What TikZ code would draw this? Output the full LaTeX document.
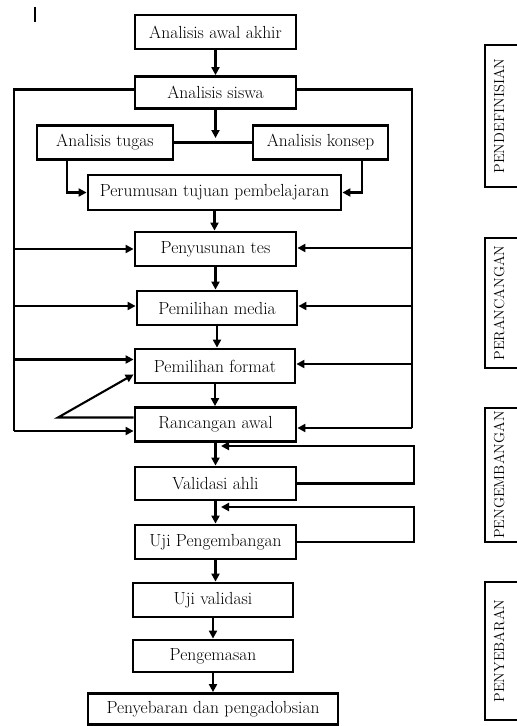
\documentclass[tikz,border=0pt]{standalone}
\usepackage{tikz}
\usetikzlibrary{arrows.meta, calc}

\begin{document}
\begin{tikzpicture}[x=1pt, y=-1pt,
    kotak/.style={draw, line width=2.8pt, minimum width=161pt, minimum height=34pt, inner sep=0pt, font=\fontsize{17.5}{20}\selectfont},
    garis/.style={line width=2.1pt},
    panah/.style={garis, -{Triangle[length=8pt, width=8pt]}},
    fase/.style={draw, line width=2.4pt},
    teksfase/.style={rotate=90, inner sep=0pt, font=\fontsize{14.5}{16}\selectfont}]
    \useasboundingbox (0,0) rectangle (517,726);
    \clip (0,0) rectangle (517,726);

    % Tanda kursor
    \draw[line width=1.2pt] (35,7) -- (35,22);

    % Kotak-kotak utama
    \node[kotak] (awal) at (215.5,32) {Analisis awal akhir};
    \node[kotak, minimum height=32pt] (siswa) at (215.5,92.5) {Analisis siswa};
    \node[kotak, minimum width=136pt] (tugas) at (105,142.5) {Analisis tugas};
    \node[kotak, minimum width=135pt] (konsep) at (320.5,142.5) {Analisis konsep};
    \node[kotak, minimum width=253pt, minimum height=35pt] (tujuan) at (214.5,192.5) {Perumusan tujuan pembelajaran};
    \node[kotak] (tes) at (215.5,249) {Penyusunan tes};
    \node[kotak, minimum width=160pt] (media) at (217,308) {Pemilihan media};
    \node[kotak, minimum width=160pt] (format) at (215,366) {Pemilihan format};
    \node[kotak] (rancangan) at (215.5,424.5) {Rancangan awal};
    \node[kotak, minimum height=33pt] (validasi) at (215.5,483.5) {Validasi ahli};
    \node[kotak] (ujipeng) at (215.5,542) {Uji Pengembangan};
    \node[kotak, minimum width=160pt] (ujival) at (213,600) {Uji validasi};
    \node[kotak, minimum width=160pt, minimum height=32pt] (kemas) at (213,656) {Pengemasan};
    \node[kotak, minimum width=250pt, minimum height=31pt] (sebar) at (213,709) {Penyebaran dan pengadobsian};

    % Alur ke bawah
    \foreach \a/\b in {awal/siswa, tujuan/tes, tes/media, media/format, format/rancangan,
                       rancangan/validasi, validasi/ujipeng, ujipeng/ujival, ujival/kemas, kemas/sebar}
        \draw[panah] (\a.south) -- (\a.south |- \b.north);

    % Analisis tugas dan konsep
    \coordinate (simpul) at (215.5,138);
    \draw[panah] (siswa.south) -- (simpul);
    \draw[garis] (tugas.east) -- (konsep.west);
    \draw[panah] ([xshift=-38pt]tugas.south) |- (tujuan.west);
    \draw[panah] ([xshift=41.5pt]konsep.south) |- (tujuan.east);

    % Jalur kiri
    \coordinate (kiri) at (14,0);
    \coordinate (kiribawah) at (14,431);
    \draw[garis] ([yshift=3pt]siswa.west) -| (kiribawah);
    \draw[panah] (kiribawah) -- (kiribawah -| rancangan.west);
    \foreach \n/\d in {tes/0, media/2, format/6.5} {
        \path ([yshift=\d pt]\n.west) coordinate (t);
        \draw[panah] (t -| kiri) -- (t);
    }
    \path ([yshift=7pt]rancangan.west) coordinate (v0);
    \coordinate (vujung) at (58,417.5);
    \draw[panah] (v0) -- (vujung) -- ([yshift=10pt]format.south west);

    % Jalur kanan
    \coordinate (kanan) at (412,0);
    \path ([yshift=-3.5pt]rancangan.east) coordinate (r0);
    \draw[garis] ([yshift=3pt]siswa.east) -| (r0 -| kanan);
    \draw[panah] (r0 -| kanan) -- (r0);
    \foreach \n/\d in {tes/1, media/2, format/2} {
        \path ([yshift=\d pt]\n.east) coordinate (t);
        \draw[panah] (t -| kanan) -- (t);
    }

    % Umpan balik
    \coordinate (kanan2) at (414,0);
    \coordinate (balik1) at (221,446);
    \coordinate (balik2) at (221,507);
    \draw[panah] (validasi.east) -- (validasi.east -| kanan2) |- (balik1);
    \draw[panah] (ujipeng.east) -- (ujipeng.east -| kanan2) |- (balik2);

    % Tahap
    \draw[fase] (485,45) rectangle (540,187);
    \node[teksfase] (definisi) at (499,116) {PENDEFINISIAN};
    \draw[fase] (485,238) rectangle (540,368);
    \node[teksfase] (rancang) at (499,303) {PERANCANGAN};
    \draw[fase] (485,408) rectangle (540,542);
    \node[teksfase] (kembang) at (499,475) {PENGEMBANGAN};
    \draw[fase] (485,582) rectangle (540,720);
    \node[teksfase] (sebaran) at (499,651) {PENYEBARAN};
\end{tikzpicture}
\end{document}
